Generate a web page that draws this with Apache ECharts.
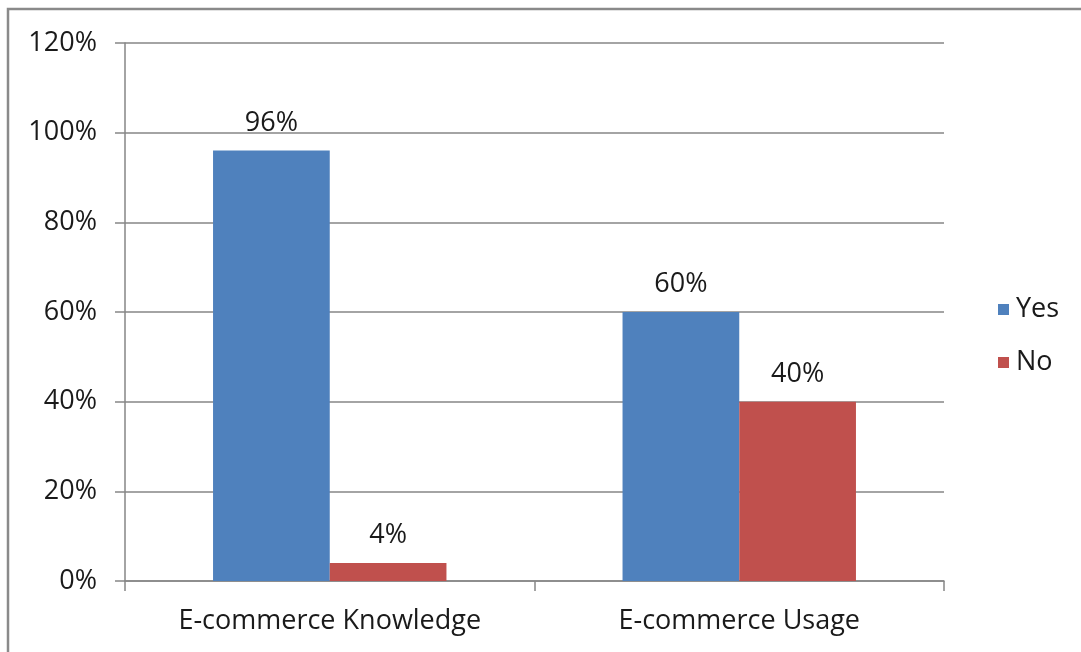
<!DOCTYPE html>
<html>
<head>
<meta charset="utf-8">
<script src="https://cdn.jsdelivr.net/npm/echarts@6/dist/echarts.min.js"></script>
<style>
  html, body { margin: 0; padding: 0; background: #fff; }
  #chart { width: 1081px; height: 652px; }
</style>
</head>
<body>
<div id="chart"></div>
<script>
// Survey results: e-commerce knowledge and usage
const categories = ['E-commerce Knowledge', 'E-commerce Usage'];
const yesValues = [96, 60];
const noValues = [4, 40];
const seriesNames = ['Yes', 'No'];

const font = '"Open Sans", "Liberation Sans", sans-serif';
const textColor = '#1a1a1a';
const fontSize = 27;
const axisGray = '#868686';

const chart = echarts.init(document.getElementById('chart'));

const labelStyle = {
  show: true,
  position: 'top',
  distance: 14,
  formatter: p => p.value + '%',
  color: textColor,
  fontSize: fontSize,
  fontFamily: font
};

chart.setOption({
  animation: false,
  backgroundColor: '#fff',
  graphic: [{
    type: 'rect',
    shape: { x: 8, y: 9, width: 1100, height: 700 },
    style: { fill: 'none', stroke: '#8a8a8a', lineWidth: 2.5 },
    silent: true,
    z: 100
  }],
  legend: {
    orient: 'vertical',
    left: 993,
    top: 291,
    itemWidth: 11,
    itemHeight: 11,
    itemGap: 26,
    icon: 'rect',
    textStyle: { fontSize: fontSize, fontFamily: font, color: textColor, padding: [0, 0, 0, 2] },
    data: seriesNames
  },
  grid: { left: 125, right: 137, top: 43, bottom: 71, containLabel: false },
  xAxis: {
    type: 'category',
    data: categories,
    axisLine: { lineStyle: { color: axisGray, width: 1.5 } },
    axisTick: { show: true, length: 10, lineStyle: { color: axisGray, width: 1.5 } },
    axisLabel: { margin: 27, fontSize: fontSize, fontFamily: font, color: textColor }
  },
  yAxis: {
    type: 'value',
    min: 0,
    max: 120,
    interval: 20,
    axisLine: { show: true, lineStyle: { color: axisGray, width: 1.5 } },
    axisTick: { show: true, length: 10, lineStyle: { color: axisGray, width: 1.5 } },
    splitLine: { lineStyle: { color: axisGray, width: 1.5 } },
    axisLabel: { margin: 28, fontSize: fontSize, fontFamily: font, color: textColor, formatter: v => v + '%' }
  },
  series: [
    {
      name: seriesNames[0],
      type: 'bar',
      data: yesValues,
      barWidth: '28.5%',
      barGap: '0%',
      itemStyle: { color: '#4F81BD' },
      label: labelStyle
    },
    {
      name: seriesNames[1],
      type: 'bar',
      data: noValues,
      barWidth: '28.5%',
      itemStyle: { color: '#C0504D' },
      label: labelStyle
    }
  ]
});
</script>
</body>
</html>
